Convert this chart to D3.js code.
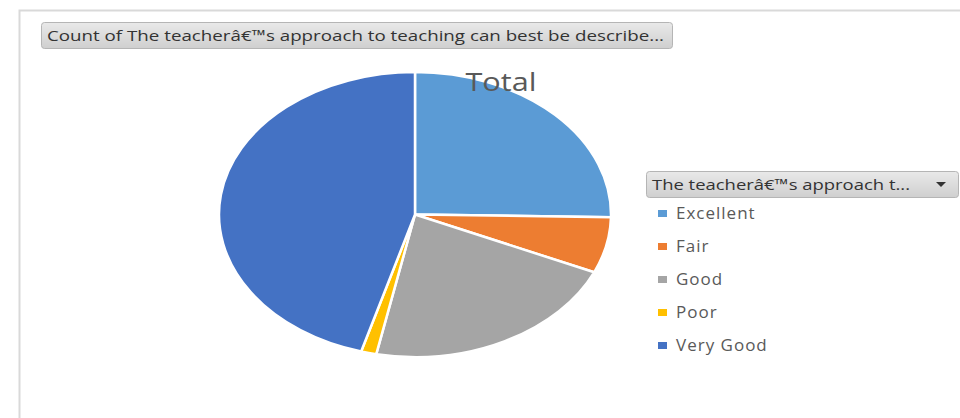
<!DOCTYPE html>
<html>
<head>
<meta charset="utf-8">
<script src="https://cdn.jsdelivr.net/npm/d3@7"></script>
<style>
  body { margin: 0; background: #fff; }
  svg { display: block; font-family: "Open Sans", "Noto Sans", sans-serif; }
</style>
</head>
<body>
<div id="chart"></div>
<script>
// data (counts of responses)
var categories = ['Excellent', 'Fair', 'Good', 'Poor', 'Very Good'];
var counts = [20, 5, 17, 1, 36];
var colors = ['#5b9bd5', '#ed7d31', '#a5a5a5', '#ffc000', '#4472c4'];
var titleText = 'Count of The teacher\u00e2\u20ac\u2122s approach to teaching can best be describe...';
var legendTitle = 'The teacher\u00e2\u20ac\u2122s approach t...';
var chartTitle = 'Total';

var width = 960, height = 418;

var svg = d3.select('#chart')
  .append('svg')
  .attr('width', width)
  .attr('height', height);

var defs = svg.append('defs');
var grad = defs.append('linearGradient')
  .attr('id', 'btn')
  .attr('x1', 0).attr('y1', 0).attr('x2', 0).attr('y2', 1);
grad.append('stop').attr('offset', '0%').attr('stop-color', '#e9e9e9');
grad.append('stop').attr('offset', '100%').attr('stop-color', '#cfcfcf');

// chart area frame
svg.append('path')
  .attr('d', 'M19.5,420 V10.5 H962')
  .attr('fill', 'none')
  .attr('stroke', '#d9d9d9')
  .attr('stroke-width', 2);

// field button at top
svg.append('rect')
  .attr('x', 41.5).attr('y', 22.5)
  .attr('width', 631).attr('height', 26)
  .attr('rx', 3)
  .attr('fill', 'url(#btn)')
  .attr('stroke', '#b5b5b5');

svg.append('text')
  .attr('x', 47).attr('y', 41)
  .attr('font-size', 15)
  .attr('fill', '#333')
  .attr('textLength', 617)
  .attr('lengthAdjust', 'spacingAndGlyphs')
  .text(titleText);

// pie (the picture is stretched horizontally)
var cx = 415, cy = 214.5, rx = 196, ry = 142.5;

var pie = d3.pie()
  .value(function (d) { return d.val; })
  .sort(null);

var arc = d3.arc()
  .innerRadius(0)
  .outerRadius(ry);

var pieData = categories.map(function (c, i) {
  return { name: c, val: counts[i], color: colors[i] };
});

var g = svg.append('g')
  .attr('transform', 'translate(' + cx + ',' + cy + ') scale(' + (rx / ry) + ',1)');

g.selectAll('path')
  .data(pie(pieData))
  .enter()
  .append('path')
  .attr('d', arc)
  .attr('fill', function (d) { return d.data.color; })
  .attr('stroke', '#fff')
  .attr('stroke-width', 2.5)
  .attr('vector-effect', 'non-scaling-stroke');

// chart title drawn over the pie
svg.append('text')
  .attr('x', 501).attr('y', 91)
  .attr('text-anchor', 'middle')
  .attr('font-size', 25)
  .attr('fill', '#595959')
  .attr('textLength', 71)
  .attr('lengthAdjust', 'spacingAndGlyphs')
  .text(chartTitle);

// legend field button
svg.append('rect')
  .attr('x', 646.5).attr('y', 171.5)
  .attr('width', 312).attr('height', 26)
  .attr('rx', 3)
  .attr('fill', 'url(#btn)')
  .attr('stroke', '#b5b5b5');

svg.append('text')
  .attr('x', 652).attr('y', 190)
  .attr('font-size', 15)
  .attr('fill', '#333')
  .attr('textLength', 258)
  .attr('lengthAdjust', 'spacingAndGlyphs')
  .text(legendTitle);

svg.append('path')
  .attr('d', 'M936,182 L946,182 L941,187 Z')
  .attr('fill', '#333');

var legendY = d3.scalePoint()
  .domain(categories)
  .range([213, 345]);

var legend = svg.selectAll('.legend')
  .data(pieData)
  .enter()
  .append('g')
  .attr('class', 'legend')
  .attr('transform', function (d) { return 'translate(658,' + legendY(d.name) + ')'; });

legend.append('rect')
  .attr('x', 0).attr('y', -3)
  .attr('width', 9).attr('height', 7)
  .attr('fill', function (d) { return d.color; });

legend.append('text')
  .attr('x', 18).attr('y', 6)
  .attr('font-size', 17)
  .attr('fill', '#595959')
  .attr('letter-spacing', 1)
  .text(function (d) { return d.name; });
</script>
</body>
</html>
